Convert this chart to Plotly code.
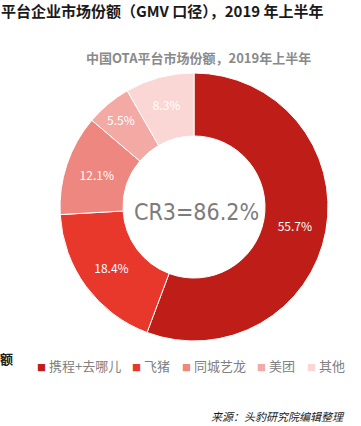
import plotly.graph_objects as go

labels = ["携程+去哪儿", "飞猪", "同城艺龙", "美团", "其他"]
values = [55.7, 18.4, 12.1, 5.5, 8.3]
colors = ["#BE1E17", "#E8372B", "#EE877F", "#F3AAA5", "#FAD7D5"]

title_text = "平台企业市场份额（GMV 口径），2019 年上半年"
subtitle_text = "中国OTA平台市场份额，2019年上半年"
center_text = "CR3=86.2%"
source_text = "来源：头豹研究院编辑整理"

W, H = 361, 426
cx, cy, r = 194, 207, 134
legend_x = [35, 130, 180, 255, 305]  # left pixel of each legend item
legend_y = 365

fig = go.Figure()
fig.add_trace(go.Pie(
    labels=labels,
    values=values,
    sort=False,
    direction="clockwise",
    rotation=0,
    hole=0.53,
    marker=dict(colors=colors, line=dict(color="white", width=1)),
    texttemplate="%{value:.1f}%",
    textposition="inside",
    insidetextorientation="horizontal",
    textfont=dict(color="white", size=12, family="Noto Sans CJK SC"),
    domain=dict(x=[(cx - r) / W, (cx + r) / W], y=[(H - cy - r) / H, (H - cy + r) / H]),
    hoverinfo="label+percent",
    showlegend=False,
))

def px(x):
    return x / W

def py(y):
    return 1 - y / H

ann = [
    dict(text="<b>" + title_text + "</b>", x=px(-1), y=py(10), xanchor="left", yanchor="middle",
         font=dict(size=15, color="#1a1a1a", family="Noto Sans CJK SC")),
    dict(text="<b>" + subtitle_text + "</b>", x=px(198), y=py(57), xanchor="center", yanchor="middle",
         font=dict(size=13, color="#8a8a8a", family="Noto Sans CJK SC")),
    dict(text=center_text, x=px(cx + 2), y=py(212), xanchor="center", yanchor="middle",
         font=dict(size=23, color="#7c7c7c", family="DejaVu Sans Condensed, sans-serif")),
    dict(text="<b>额</b>", x=px(-2), y=py(358), xanchor="left", yanchor="middle",
         font=dict(size=13, color="#1a1a1a", family="Noto Sans CJK SC")),
    dict(text="<i>" + source_text + "</i>", x=px(347), y=py(416), xanchor="right", yanchor="middle",
         font=dict(size=11, color="#1a1a1a", family="Noto Sans CJK SC")),
]

for lab, col, lx in zip(labels, colors, legend_x):
    ann.append(dict(
        text="<span style='color:%s;font-size:9px'>■</span> %s" % (col, lab),
        x=px(lx), y=py(legend_y), xanchor="left", yanchor="middle",
        font=dict(size=13, color="#808080", family="Noto Sans CJK SC"),
    ))

for a in ann:
    a.update(xref="paper", yref="paper", showarrow=False)

fig.update_layout(
    width=W, height=H,
    margin=dict(l=0, r=0, t=0, b=0),
    paper_bgcolor="white",
    plot_bgcolor="white",
    showlegend=False,
    annotations=ann,
)

fig.write_html("out.html")
